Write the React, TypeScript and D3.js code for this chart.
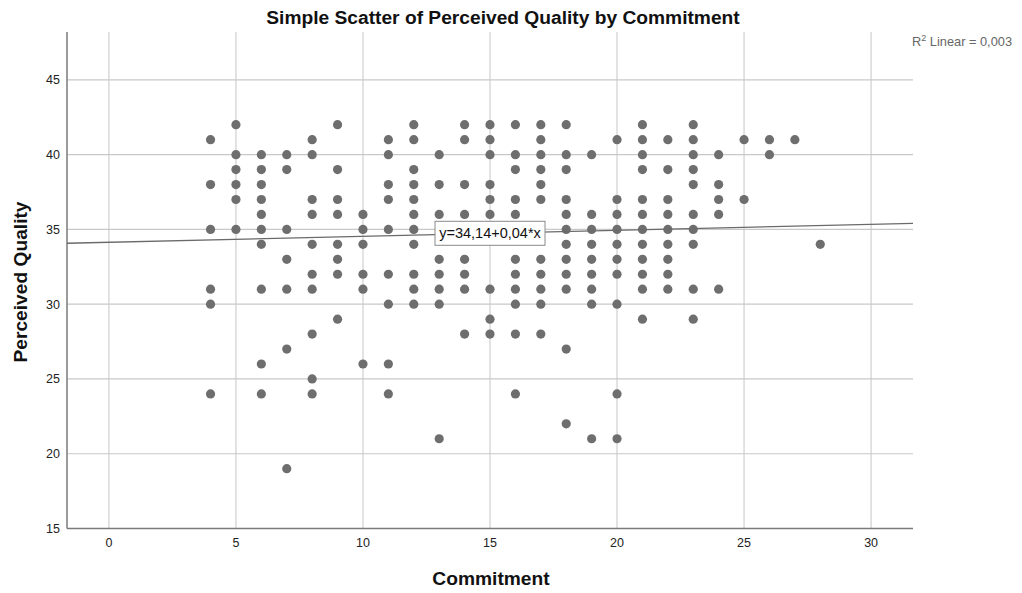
import React from "react";
import * as d3 from "d3";

const commitmentLevels = [4, 5, 6, 7, 8, 9, 10, 11, 12, 13, 14, 15, 16, 17, 18, 19, 20, 21, 22, 23, 24, 25, 26, 27, 28];
const qualityByCommitment: number[][] = [
  [41, 38, 35, 31, 30, 24],
  [42, 40, 39, 38, 37, 35],
  [40, 39, 38, 37, 36, 35, 34, 31, 26, 24],
  [40, 39, 35, 33, 31, 27, 19],
  [41, 40, 37, 36, 34, 32, 31, 28, 25, 24],
  [42, 39, 37, 36, 34, 33, 32, 29],
  [36, 35, 34, 32, 31, 26],
  [41, 40, 38, 37, 35, 32, 30, 26, 24],
  [42, 41, 39, 38, 37, 36, 35, 34, 32, 31, 30],
  [40, 38, 36, 33, 32, 31, 30, 21],
  [42, 41, 38, 36, 33, 32, 31, 28],
  [42, 41, 40, 38, 37, 36, 31, 29, 28],
  [42, 40, 39, 37, 36, 33, 32, 31, 30, 28, 24],
  [42, 41, 40, 39, 38, 37, 33, 32, 31, 30, 28],
  [42, 40, 39, 37, 36, 35, 34, 33, 32, 31, 27, 22],
  [40, 36, 35, 34, 33, 32, 31, 30, 21],
  [41, 37, 36, 35, 34, 33, 32, 30, 24, 21],
  [42, 41, 40, 39, 37, 36, 35, 34, 33, 32, 31, 29],
  [41, 39, 37, 36, 35, 34, 33, 32, 31],
  [42, 41, 40, 39, 38, 36, 35, 34, 31, 29],
  [40, 38, 37, 36, 31],
  [41, 37],
  [41, 40],
  [41],
  [34],
];
const xTicks = [0, 5, 10, 15, 20, 25, 30];
const yTicks = [15, 20, 25, 30, 35, 40, 45];
const fitIntercept = 34.14;
const fitSlope = 0.04;
const fitLabel = "y=34,14+0,04*x";
const r2Value = "0,003";

const W = 1022;
const H = 593;
const left = 67;
const right = 913;
const top = 32;
const bottom = 528.5;
const font = "'Liberation Sans', Arial, sans-serif";

export default function App() {
  const x = d3.scaleLinear().domain([-1.65, 31.65]).range([left, right]);
  const y = d3.scaleLinear().domain([15, 48.2]).range([bottom, top]);
  const points = commitmentLevels.flatMap((c, i) => qualityByCommitment[i].map((q) => ({ c, q })));
  const [x0, x1] = x.domain();
  const line = d3.line<number>().x((d) => x(d)).y((d) => y(fitIntercept + fitSlope * d));
  const labelX = 15;
  const labelY = fitIntercept + fitSlope * labelX;
  return (
    <svg width={W} height={H} style={{ position: "absolute", left: 0, top: 0, background: "#fff" }} fontFamily={font}>
      {xTicks.map((t) => (
        <line key={"gx" + t} x1={x(t)} x2={x(t)} y1={top} y2={bottom} stroke="#cfcfcf" strokeWidth={1.2} />
      ))}
      {yTicks.map((t) => (
        <line key={"gy" + t} x1={left} x2={right} y1={y(t)} y2={y(t)} stroke="#c8c8c8" strokeWidth={1.2} />
      ))}
      <line x1={left} x2={left} y1={top} y2={bottom} stroke="#7a7a7a" strokeWidth={1.5} />
      <line x1={left} x2={right} y1={bottom} y2={bottom} stroke="#7a7a7a" strokeWidth={1.5} />
      {yTicks.map((t) => (
        <text key={"ty" + t} x={left - 7} y={y(t) + 4.5} textAnchor="end" fontSize={12.5} fill="#222">
          {t}
        </text>
      ))}
      {xTicks.map((t) => (
        <text key={"tx" + t} x={x(t)} y={bottom + 18.5} textAnchor="middle" fontSize={12.5} fill="#222">
          {t}
        </text>
      ))}
      {points.map((p, i) => (
        <circle key={i} cx={x(p.c)} cy={y(p.q)} r={4.6} fill="#6e6e6e" />
      ))}
      <path d={line([x0, x1]) || ""} fill="none" stroke="#6a6a6a" strokeWidth={1.3} />
      <rect x={x(labelX) - 55} y={y(labelY) - 12} width={110} height={24} fill="#fff" stroke="#8a8a8a" strokeWidth={1} />
      <text x={x(labelX)} y={y(labelY) + 5} textAnchor="middle" fontSize={14.5} fill="#111">
        {fitLabel}
      </text>
      <text x={503} y={24} textAnchor="middle" fontSize={19.2} fontWeight="bold" fill="#111">
        Simple Scatter of Perceived Quality by Commitment
      </text>
      <text x={491} y={585} textAnchor="middle" fontSize={19.2} fontWeight="bold" fill="#111">
        Commitment
      </text>
      <text transform={`translate(27, 282) rotate(-90)`} textAnchor="middle" fontSize={19.2} fontWeight="bold" fill="#111">
        Perceived Quality
      </text>
      <text x={912} y={46} fontSize={12.8} fill="#666">
        R<tspan dy={-5} fontSize={9}>2</tspan>
        <tspan dy={5}> Linear = {r2Value}</tspan>
      </text>
    </svg>
  );
}
